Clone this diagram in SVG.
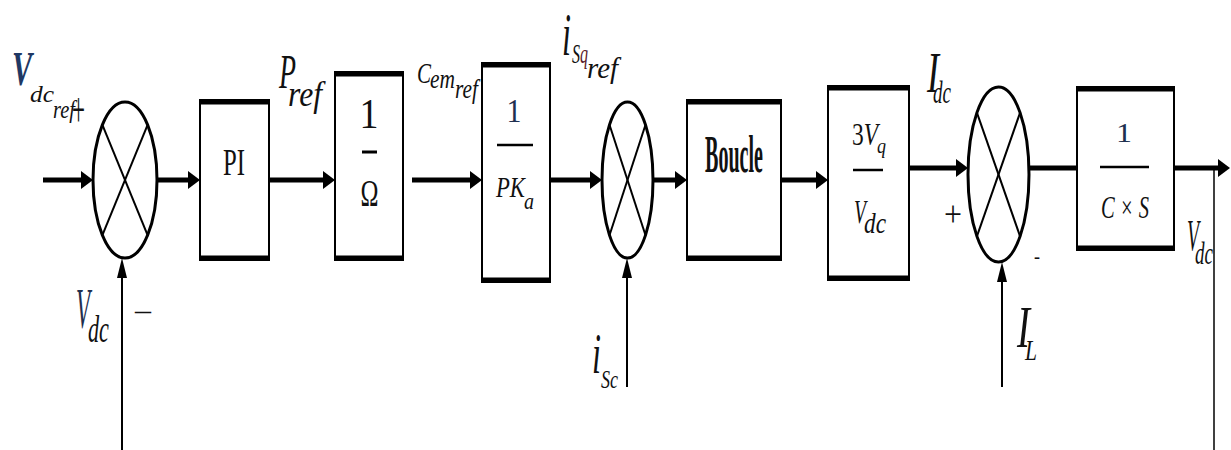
<svg xmlns="http://www.w3.org/2000/svg" width="1231" height="450" viewBox="0 0 1231 450">
<style>
.bg{fill:#fff}
.sum{fill:none;stroke:#000;stroke-width:3}
.x{stroke:#000;stroke-width:2}
.box{fill:#fff;stroke:#000;stroke-width:2}
.edge{stroke:#000;stroke-width:5}
.frac{stroke:#000;stroke-width:2.5}
.thick{fill:none;stroke:#000;stroke-width:5}
.thin{fill:none;stroke:#000;stroke-width:2}
.m{font-family:"Liberation Serif",serif;font-style:italic;fill:#111}
.r{font-family:"Liberation Serif",serif;font-style:normal;fill:#111}
.b{font-family:"Liberation Serif",serif;font-weight:bold;fill:#111}
</style>
<defs>
<marker id="ah" markerUnits="userSpaceOnUse" markerWidth="12" markerHeight="18" refX="6" refY="9" orient="auto"><path d="M0,0 L12,9 L0,18 z" fill="#000"/></marker>
<marker id="ahs" markerUnits="userSpaceOnUse" markerWidth="20" markerHeight="10" refX="16" refY="5" orient="auto"><path d="M0,0 L20,5 L0,10 z" fill="#000"/></marker>
</defs>
<rect class="bg" x="0" y="0" width="1231" height="450"/>

<g id="connectors">
<path class="thick" d="M43,180 H87" marker-end="url(#ah)"/>
<path class="thick" d="M157,180 H194" marker-end="url(#ah)"/>
<path class="thick" d="M269,180 H329" marker-end="url(#ah)"/>
<path class="thick" d="M412,180 H476" marker-end="url(#ah)"/>
<path class="thick" d="M550,180 H596" marker-end="url(#ah)"/>
<path class="thick" d="M653,180 H681" marker-end="url(#ah)"/>
<path class="thick" d="M781,180 H822" marker-end="url(#ah)"/>
<path class="thick" d="M909,168 H962" marker-end="url(#ah)"/>
<path class="thick" d="M1029,168 H1077"/>
<path class="thick" d="M1174,168 H1224" marker-end="url(#ah)"/>
<path class="thin" d="M122,450 V262" marker-end="url(#ahs)"/>
<path class="thin" d="M627,387 V262" marker-end="url(#ahs)"/>
<path class="thin" d="M1002,387 V266" marker-end="url(#ahs)"/>
<path class="thin" style="stroke-width:1.5" d="M1214,168 V450"/>
</g>

<g id="sum1">
<ellipse class="sum" cx="125" cy="180" rx="32" ry="78"/>
<line class="x" x1="102.4" y1="124.8" x2="147.6" y2="235.2"/>
<line class="x" x1="147.6" y1="124.8" x2="102.4" y2="235.2"/>
</g>
<g id="pi">
<rect class="box" x="200" y="100" width="69" height="160"/>
<line class="edge" x1="199" y1="102" x2="270" y2="102"/>
<line class="edge" x1="199" y1="258" x2="270" y2="258"/>
<text class="r" x="234" y="175" font-size="38" text-anchor="middle" textLength="22" lengthAdjust="spacingAndGlyphs">PI</text>
</g>
<g id="inv_omega">
<rect class="box" x="335" y="72" width="68" height="188"/>
<line class="edge" x1="334" y1="74" x2="404" y2="74"/>
<line class="edge" x1="334" y1="258" x2="404" y2="258"/>
<text class="r" x="369" y="128" font-size="42" text-anchor="middle" textLength="19" lengthAdjust="spacingAndGlyphs">1</text>
<line class="frac" style="stroke-width:3" x1="362" y1="152" x2="377" y2="152"/>
<text class="r" x="369.5" y="206" font-size="37" text-anchor="middle" textLength="18" lengthAdjust="spacingAndGlyphs">&#937;</text>
</g>
<g id="inv_pka">
<rect class="box" x="482" y="63" width="68" height="219"/>
<line class="edge" x1="481" y1="65" x2="551" y2="65"/>
<line class="edge" x1="481" y1="280" x2="551" y2="280"/>
<text class="r" x="514" y="122" font-size="34" text-anchor="middle" textLength="15" lengthAdjust="spacingAndGlyphs" style="fill:#1f3050">1</text>
<line class="frac" x1="497" y1="145" x2="533" y2="145"/>
<text class="m"><tspan x="496" y="197" font-size="30" textLength="29" lengthAdjust="spacingAndGlyphs">PK</tspan><tspan x="524" y="209" font-size="24" textLength="10" lengthAdjust="spacingAndGlyphs">a</tspan></text>
</g>
<g id="sum2">
<ellipse class="sum" cx="627.5" cy="180" rx="25.5" ry="78"/>
<line class="x" x1="609.5" y1="124.8" x2="645.5" y2="235.2"/>
<line class="x" x1="645.5" y1="124.8" x2="609.5" y2="235.2"/>
</g>
<g id="boucle">
<rect class="box" x="687" y="100" width="94" height="160"/>
<line class="edge" x1="686" y1="102" x2="782" y2="102"/>
<line class="edge" x1="686" y1="258" x2="782" y2="258"/>
<text class="b" x="734" y="172" font-size="52" text-anchor="middle" textLength="58" lengthAdjust="spacingAndGlyphs">Boucle</text>
</g>
<g id="gain">
<rect class="box" x="828" y="86" width="81" height="194"/>
<line class="edge" x1="827" y1="88" x2="910" y2="88"/>
<line class="edge" x1="827" y1="278" x2="910" y2="278"/>
<text class="r"><tspan x="852" y="145" font-size="31" textLength="26" lengthAdjust="spacingAndGlyphs">3<tspan font-style="italic">V</tspan></tspan><tspan x="877" y="153" font-size="22" font-style="italic" textLength="9" lengthAdjust="spacingAndGlyphs">q</tspan></text>
<line class="frac" x1="853" y1="170" x2="883" y2="170"/>
<text class="m"><tspan x="854" y="223" font-size="34" textLength="12" lengthAdjust="spacingAndGlyphs">V</tspan><tspan x="864" y="233" font-size="30" textLength="22" lengthAdjust="spacingAndGlyphs">dc</tspan></text>
</g>
<g id="sum3">
<ellipse class="sum" cx="998.5" cy="174.5" rx="30.5" ry="87.5"/>
<line class="x" x1="976.9" y1="112.6" x2="1020.1" y2="236.4"/>
<line class="x" x1="1020.1" y1="112.6" x2="976.9" y2="236.4"/>
</g>
<g id="plant">
<rect class="box" x="1077" y="87" width="97" height="163"/>
<line class="edge" x1="1076" y1="89" x2="1175" y2="89"/>
<line class="edge" x1="1076" y1="248" x2="1175" y2="248"/>
<text class="r" x="1124" y="142" font-size="28" text-anchor="middle" textLength="16" lengthAdjust="spacingAndGlyphs" style="fill:#1f3050">1</text>
<line class="frac" x1="1100" y1="167" x2="1149" y2="167"/>
<text class="m" x="1101" y="218" font-size="32" textLength="48" lengthAdjust="spacingAndGlyphs">C × S</text>
</g>

<g id="labels">
<text class="m"><tspan x="12" y="85" font-size="48" font-weight="bold" fill="#1f3864" textLength="20" lengthAdjust="spacingAndGlyphs">V</tspan><tspan x="30" y="102" font-size="24" textLength="24" lengthAdjust="spacingAndGlyphs">dc</tspan><tspan x="53" y="118" font-size="25" textLength="22" lengthAdjust="spacingAndGlyphs">ref</tspan><tspan x="72" y="127" font-size="50" font-style="normal" textLength="13" lengthAdjust="spacingAndGlyphs">+</tspan></text>

<text class="m"><tspan x="76" y="328" font-size="58" fill="#1f2f4f" textLength="14" lengthAdjust="spacingAndGlyphs">V</tspan><tspan x="88" y="342" font-size="37" textLength="21" lengthAdjust="spacingAndGlyphs">dc</tspan></text>
<text class="r" x="135" y="320" font-size="30" textLength="16" lengthAdjust="spacingAndGlyphs">–</text>

<text class="m"><tspan x="279" y="88" font-size="48" textLength="17" lengthAdjust="spacingAndGlyphs">P</tspan><tspan x="288" y="106" font-size="36" textLength="34" lengthAdjust="spacingAndGlyphs">ref</tspan></text>

<text class="m"><tspan x="417" y="83" font-size="30" textLength="14" lengthAdjust="spacingAndGlyphs">C</tspan><tspan x="430" y="88" font-size="27" textLength="25" lengthAdjust="spacingAndGlyphs">em</tspan><tspan x="455" y="98" font-size="27" textLength="23" lengthAdjust="spacingAndGlyphs">ref</tspan></text>

<text class="m"><tspan x="562" y="55" font-size="62" textLength="9" lengthAdjust="spacingAndGlyphs">i</tspan><tspan x="572" y="63" font-size="27" textLength="16" lengthAdjust="spacingAndGlyphs">S<tspan fill="#5a1a2a">q</tspan></tspan><tspan x="587" y="78" font-size="30" textLength="31" lengthAdjust="spacingAndGlyphs">ref</tspan></text>

<text class="m"><tspan x="592" y="373" font-size="58" textLength="9" lengthAdjust="spacingAndGlyphs">i</tspan><tspan x="601" y="388" font-size="26" textLength="17" lengthAdjust="spacingAndGlyphs">Sc</tspan></text>

<text class="m"><tspan x="927" y="92" font-size="56" textLength="12" lengthAdjust="spacingAndGlyphs">I</tspan><tspan x="933" y="103" font-size="31" textLength="18" lengthAdjust="spacingAndGlyphs">dc</tspan></text>

<text class="r" x="944" y="226" font-size="36" textLength="18" lengthAdjust="spacingAndGlyphs">+</text>
<text class="r" x="1034" y="263" font-size="22" textLength="6" lengthAdjust="spacingAndGlyphs">-</text>

<text class="m"><tspan x="1187" y="250" font-size="45" textLength="12" lengthAdjust="spacingAndGlyphs">V</tspan><tspan x="1195" y="264" font-size="31" textLength="18" lengthAdjust="spacingAndGlyphs">dc</tspan></text>

<text class="m"><tspan x="1017" y="347" font-size="60" textLength="13" lengthAdjust="spacingAndGlyphs">I</tspan><tspan x="1025" y="360" font-size="30" textLength="12" lengthAdjust="spacingAndGlyphs">L</tspan></text>
</g>
</svg>
